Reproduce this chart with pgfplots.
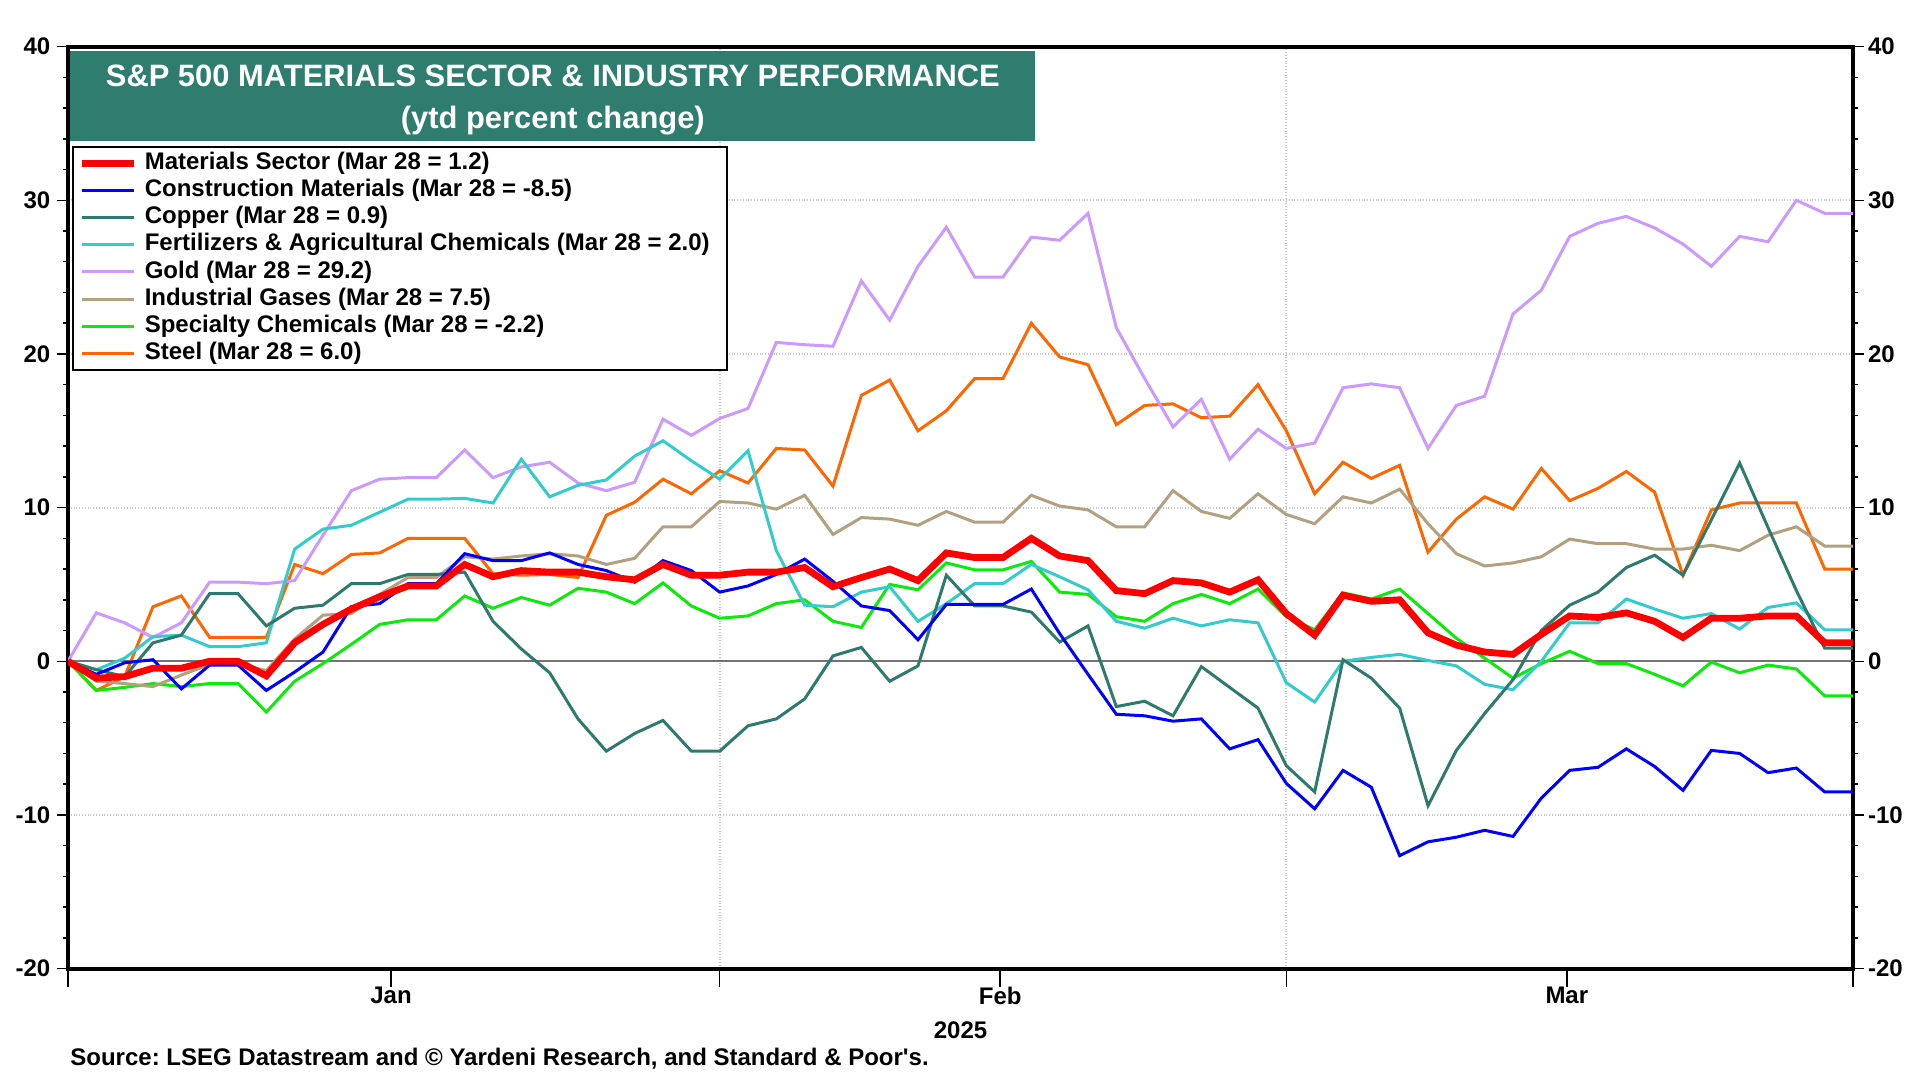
\documentclass[border=0pt]{standalone}
\usepackage{fontspec}
\setmainfont{Liberation Sans}
\usepackage{pgfplots}
\usepackage{pgfplotstable}
\pgfplotsset{compat=1.18}
\frenchspacing

\definecolor{matred}{RGB}{255,0,0}
\definecolor{constblue}{RGB}{0,0,255}
\definecolor{copperc}{RGB}{46,123,110}
\definecolor{fertc}{RGB}{51,204,204}
\definecolor{goldc}{RGB}{204,153,255}
\definecolor{gasc}{RGB}{178,160,128}
\definecolor{specc}{RGB}{10,235,10}
\definecolor{steelc}{RGB}{255,102,0}
\definecolor{titlebg}{RGB}{46,125,110}

% weekdays from Jan 1 (i=0) to Mar 31 (i=63), ytd percent change
\pgfplotstableread{
i  mat    con     cop    fer    gold   gas    spec   steel
0  0      0       0      0      0      0      0      0
1  -1.1   -0.85   -0.55  -0.55  3.15   -1.3   -1.9   -1.9
2  -1.0   -0.1    -1.0   0.2    2.5    -1.45  -1.7   -1.0
3  -0.45  0.1     1.2    1.6    1.55   -1.65  -1.45  3.55
4  -0.45  -1.8    1.7    1.7    2.5    -0.9   -1.65  4.25
5  0      -0.25   4.4    0.95   5.15   -0.2   -1.45  1.55
6  0      -0.25   4.4    0.95   5.15   -0.2   -1.45  1.55
7  -0.95  -1.9    2.3    1.2    5.05   -0.6   -3.3   1.55
8  1.2    -0.7    3.45   7.3    5.25   1.45   -1.3   6.3
9  2.4    0.6     3.65   8.6    8.2    3.0    -0.15  5.7
10 3.4    3.55    5.05   8.85   11.1   3.1    1.1    6.95
11 4.2    3.75    5.05   9.7    11.85  4.35   2.4    7.05
12 4.9    5.05    5.65   10.55  11.95  5.45   2.7    8.0
13 4.9    5.05    5.65   10.55  11.95  5.45   2.7    8.0
14 6.3    7.0     5.8    10.6   13.75  6.8    4.25   8.0
15 5.5    6.55    2.6    10.3   11.95  6.65   3.45   5.7
16 5.9    6.55    0.8    13.15  12.65  6.85   4.15   5.6
17 5.8    7.05    -0.75  10.7   12.95  7.0    3.65   5.65
18 5.8    6.3     -3.75  11.45  11.6   6.85   4.75   5.45
19 5.5    5.9     -5.85  11.8   11.1   6.3    4.5    9.5
20 5.3    5.15    -4.7   13.35  11.65  6.7    3.75   10.35
21 6.3    6.55    -3.85  14.35  15.75  8.75   5.1    11.85
22 5.6    5.9     -5.85  13.05  14.7   8.75   3.6    10.9
23 5.6    4.5     -5.85  11.85  15.8   10.4   2.8    12.4
24 5.8    4.9     -4.2   13.7   16.45  10.3   2.95   11.6
25 5.8    5.65    -3.75  7.2    20.75  9.9    3.75   13.85
26 6.1    6.65    -2.45  3.65   20.6   10.8   4.0    13.75
27 4.85   5.2     0.35   3.55   20.5   8.25   2.6    11.4
28 5.45   3.6     0.9    4.5    24.75  9.35   2.2    17.3
29 6.0    3.3     -1.3   4.85   22.2   9.25   5.0    18.3
30 5.25   1.4     -0.3   2.6    25.7   8.85   4.65   15.0
31 7.05   3.7     5.6    3.75   28.25  9.75   6.4    16.3
32 6.75   3.7     3.6    5.05   25.0   9.05   5.95   18.4
33 6.75   3.7     3.6    5.05   25.0   9.05   5.95   18.4
34 8.0    4.7     3.2    6.3    27.6   10.8   6.5    22.0
35 6.85   1.8     1.25   5.5    27.4   10.1   4.5    19.8
36 6.55   -0.85   2.3    4.65   29.15  9.85   4.35   19.3
37 4.6    -3.45   -2.95  2.6    21.7   8.75   2.9    15.4
38 4.4    -3.55   -2.6   2.15   18.4   8.75   2.6    16.65
39 5.25   -3.9    -3.55  2.8    15.25  11.1   3.75   16.75
40 5.1    -3.75   -0.35  2.3    17.05  9.75   4.35   15.85
41 4.5    -5.7    -1.7   2.7    13.15  9.3    3.75   15.95
42 5.3    -5.1    -3.05  2.5    15.1   10.9   4.7    18.0
43 3.1    -7.95   -6.8   -1.4   13.85  9.55   2.9    15.0
44 1.7    -9.6    -8.5   -2.65  14.2   8.95   2.05   10.9
45 4.3    -7.1    0.1    0.0    17.8   10.7   4.45   12.95
46 3.9    -8.2    -1.1   0.25   18.05  10.3   4.05   11.9
47 4.0    -12.65  -3.05  0.45   17.8   11.2   4.7    12.75
48 1.85   -11.75  -9.4   0.05   13.85  8.95   3.1    7.1
49 1.05   -11.45  -5.8   -0.3   16.65  7.0    1.5    9.25
50 0.6    -11.0   -3.4   -1.5   17.25  6.2    0.2    10.7
51 0.45   -11.4   -1.2   -1.85  22.6   6.4    -1.1   9.9
52 1.75   -8.9    2.0    0.0    24.15  6.8    -0.15  12.55
53 2.95   -7.1    3.65   2.5    27.65  7.95   0.65   10.45
54 2.85   -6.9    4.5    2.5    28.5   7.65   -0.15  11.25
55 3.15   -5.7    6.1    4.05   28.95  7.65   -0.15  12.35
56 2.6    -6.85   6.9    3.4    28.2   7.3    -0.85  11.0
57 1.55   -8.4    5.6    2.8    27.15  7.3    -1.6   5.6
58 2.8    -5.8    9.2    3.1    25.7   7.55   -0.05  9.85
59 2.8    -6.0    12.9   2.1    27.65  7.2    -0.75  10.3
60 2.95   -7.25   8.7    3.5    27.3   8.2    -0.25  10.3
61 2.95   -6.95   4.6    3.8    30.0   8.75   -0.5   10.3
62 1.2    -8.5    0.85   2.05   29.15  7.5    -2.25  6.0
63 1.2    -8.5    0.85   2.05   29.15  7.5    -2.25  6.0
}\datatable

\begin{document}
\begin{tikzpicture}
\path[use as bounding box] (-34pt,-55.7pt) rectangle (926pt,484.3pt);

\begin{axis}[
  at={(0,0)}, anchor=south west,
  scale only axis, width=892.5pt, height=461pt,
  xmin=0, xmax=63, ymin=-20, ymax=40,
  clip mode=individual,
  axis line style={line width=2pt},
  tick align=outside,
  tick style={line width=0.75pt, black},
  xtick={0,23,43,63}, xticklabels={},
  xtick pos=left,
  xtick style={/pgfplots/major tick length=9pt},
  extra x ticks={11.4,32.9,52.9},
  extra x tick labels={Jan,Feb,Mar},
  extra x tick style={grid=none, /pgfplots/major tick length=0pt,
    tick label style={yshift=-5.5pt}},
  ytick={-20,-10,...,40},
  yticklabels={-20,-10,0,10,20,30,40},
  minor y tick num=4,
  major tick length=5.3pt, minor tick length=2.6pt,
  ytick pos=both, yticklabel pos=left,
  extra y ticks={0}, extra y tick labels={},
  extra y tick style={/pgfplots/major tick length=0pt, grid=major,
    major grid style={solid, line width=1.1pt, color=black!55}},
  xmajorgrids, ymajorgrids,
  grid style={densely dotted, line width=1pt, black!22},
  tick label style={font=\bfseries\fontsize{12}{14}\selectfont},
  reverse legend,
  legend cell align=left,
  legend image code/.code={\draw[#1] (0pt,0pt) -- (26pt,0pt);},
  legend style={at={(0.0022,0.8925)}, anchor=north west,
    draw=black, line width=1.2pt, fill=white,
    inner xsep=2.5pt, inner ysep=1.8pt,
    font=\bfseries\fontsize{12}{13.5}\selectfont,
    nodes={inner sep=0.75pt, text height=8.8pt, text depth=2.7pt},
    row sep=0.55pt,
    /tikz/every odd column/.append style={column sep=3.2pt}},
]
\addplot[steelc, line width=1.5pt] table[x=i, y=steel] {\datatable};
\addlegendentry{Steel (Mar 28 = 6.0)}
\addplot[specc, line width=1.5pt] table[x=i, y=spec] {\datatable};
\addlegendentry{Specialty Chemicals (Mar 28 = -2.2)}
\addplot[gasc, line width=1.5pt] table[x=i, y=gas] {\datatable};
\addlegendentry{Industrial Gases (Mar 28 = 7.5)}
\addplot[goldc, line width=1.5pt] table[x=i, y=gold] {\datatable};
\addlegendentry{Gold (Mar 28 = 29.2)}
\addplot[fertc, line width=1.5pt] table[x=i, y=fer] {\datatable};
\addlegendentry{Fertilizers \& Agricultural Chemicals (Mar 28 = 2.0)\rule{5.5pt}{0pt}}
\addplot[copperc, line width=1.5pt] table[x=i, y=cop] {\datatable};
\addlegendentry{Copper (Mar 28 = 0.9)}
\addplot[constblue, line width=1.5pt] table[x=i, y=con] {\datatable};
\addlegendentry{Construction Materials (Mar 28 = -8.5)}
\addplot[matred, line width=3.4pt] table[x=i, y=mat] {\datatable};
\addlegendentry{Materials Sector (Mar 28 = 1.2)}

\node[anchor=north west, fill=titlebg, minimum width=482.5pt,
  minimum height=45pt, inner sep=0pt] (tbox)
  at (rel axis cs:0.0011,0.9952) {};
\node[text=white, inner sep=0pt, align=center,
  font=\bfseries\fontsize{15.45}{21}\selectfont]
  at (tbox.center) [yshift=-1.8pt]
  {S\&P 500 MATERIALS SECTOR \& INDUSTRY PERFORMANCE\\(ytd percent change)};

\node[font=\bfseries\fontsize{12}{14}\selectfont] at (rel axis cs:0.5,0) [yshift=-30.7pt] {2025};
\node[anchor=west, font=\bfseries\fontsize{12}{14}\selectfont, inner sep=0pt]
  at (rel axis cs:0,0) [xshift=1pt, yshift=-45pt]
  {Source: LSEG Datastream and © Yardeni Research, and Standard \& Poor\textquotesingle s.};
\end{axis}

\begin{axis}[
  at={(0,0)}, anchor=south west,
  scale only axis, width=892.5pt, height=461pt,
  xmin=0, xmax=63, ymin=-20, ymax=40,
  axis x line=none, axis y line*=right,
  axis line style={draw=none},
  ytick={-20,-10,...,40},
  yticklabels={-20,-10,0,10,20,30,40},
  major tick length=0pt,
  yticklabel style={font=\bfseries\fontsize{12}{14}\selectfont, xshift=4pt},
]
\end{axis}
\end{tikzpicture}
\end{document}
